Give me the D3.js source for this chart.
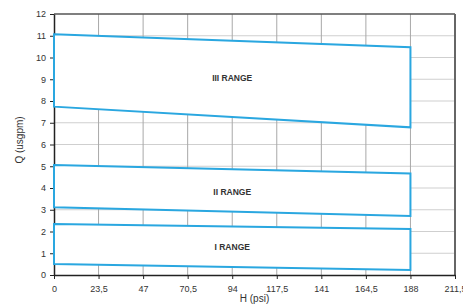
<!DOCTYPE html>
<html>
<head>
<meta charset="utf-8">
<title>Pump ranges</title>
<script src="https://d3js.org/d3.v7.min.js"></script>
<style>
  body { margin:0; background:#fff; }
  text { font-family: "Liberation Sans", Arial, sans-serif; }
</style>
</head>
<body>
<svg id="chart" width="463" height="306"></svg>
<script>
// data
var xTicks = [0, 23.5, 47, 70.5, 94, 117.5, 141, 164.5, 188, 211.5];
var yTicks = [0,1,2,3,4,5,6,7,8,9,10,11,12];
var rangeNames = ["III RANGE", "II RANGE", "I RANGE"];
var hStart = 0, hEnd = 188;
// [left top, left bottom, right top, right bottom]  in usgpm
var rangeIII = [11.07, 7.74, 10.47, 6.79];
var rangeII  = [5.06, 3.11, 4.67, 2.71];
var rangeI   = [2.34, 0.51, 2.11, 0.23];
var labelPos = [[94, 8.9], [94, 3.68], [94, 1.15]];

var svg = d3.select("#chart");
var x = d3.scaleLinear().domain([0, 211.5]).range([54, 455]);
var y = d3.scaleLinear().domain([0, 12]).range([275, 14]);

var fmt = function(d){ return String(d).replace(".", ","); };

// grid
svg.append("g").selectAll("line").data(yTicks.slice(1, -1)).enter().append("line")
  .attr("x1", x(0)).attr("x2", x(211.5))
  .attr("y1", function(d){ return y(d); }).attr("y2", function(d){ return y(d); })
  .attr("stroke", "#cfcfcf").attr("stroke-width", 1);
svg.append("g").selectAll("line").data(xTicks.slice(1, -1)).enter().append("line")
  .attr("y1", y(0)).attr("y2", y(12))
  .attr("x1", function(d){ return x(d); }).attr("x2", function(d){ return x(d); })
  .attr("stroke", "#a8a8a8").attr("stroke-width", 1);

// frame
svg.append("line").attr("x1", x(0)).attr("x2", x(211.5)).attr("y1", y(12)).attr("y2", y(12))
  .attr("stroke", "#555").attr("stroke-width", 1.5);
svg.append("line").attr("x1", x(211.5)).attr("x2", x(211.5)).attr("y1", y(0)).attr("y2", y(12))
  .attr("stroke", "#666").attr("stroke-width", 2);

// axes
var xAxis = d3.axisBottom(x).tickValues(xTicks).tickSize(4).tickSizeOuter(0).tickFormat(fmt);
var gx = svg.append("g").attr("transform", "translate(0," + y(0) + ")").call(xAxis);
var yAxis = d3.axisLeft(y).tickValues(yTicks).tickSize(4).tickSizeOuter(0);
var gy = svg.append("g").attr("transform", "translate(" + x(0) + ",0)").call(yAxis);
[gx, gy].forEach(function(g){
  g.select(".domain").attr("stroke", "#222").attr("stroke-width", 1.5);
  g.selectAll(".tick line").attr("stroke", "#222");
  g.selectAll("text").attr("fill", "#333").style("font-size", "9px");
});
gx.selectAll("text").attr("dy", "1.1em");
gy.selectAll("text").attr("dx", "-1px");

// range polygons
var ranges = [rangeIII, rangeII, rangeI];
svg.append("g").selectAll("path").data(ranges).enter().append("path")
  .attr("d", function(r){
    return "M" + x(hStart) + "," + y(r[0]) +
           "L" + x(hEnd) + "," + y(r[2]) +
           "L" + x(hEnd) + "," + y(r[3]) +
           "L" + x(hStart) + "," + y(r[1]) + "Z";
  })
  .attr("fill", "#fff").attr("stroke", "#2aa7e0").attr("stroke-width", 2);

svg.append("g").selectAll("text").data(rangeNames).enter().append("text")
  .attr("x", function(d, i){ return x(labelPos[i][0]); })
  .attr("y", function(d, i){ return y(labelPos[i][1]); })
  .attr("text-anchor", "middle")
  .style("font-size", "8.5px").style("font-weight", "bold").attr("fill", "#333")
  .text(function(d){ return d; });

// axis titles
svg.append("text").attr("x", x(105.75)).attr("y", 302).attr("text-anchor", "middle")
  .style("font-size", "10px").attr("fill", "#333").text("H (psi)");
svg.append("text").attr("transform", "translate(23,140) rotate(-90)").attr("text-anchor", "middle")
  .style("font-size", "10px").attr("fill", "#333").text("Q (usgpm)");
</script>
</body>
</html>
